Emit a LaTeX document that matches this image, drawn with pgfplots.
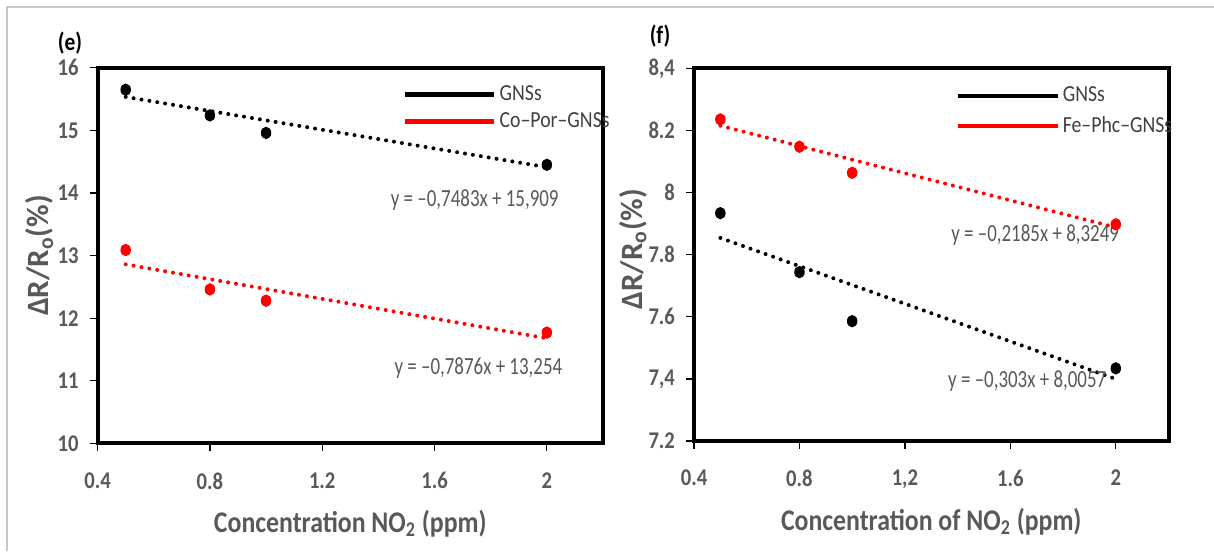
\documentclass[border=0pt]{standalone}
\usepackage{fontspec}
\setmainfont{Carlito}[FakeStretch=0.86]
\newfontfamily\eqfont{Carlito}[FakeStretch=0.77]
\newfontfamily\plainfont{Carlito}
\usepackage{pgfplots}
\usepackage{pgfplotstable}
\pgfplotsset{compat=1.18}
\definecolor{txtgray}{HTML}{595959}
\definecolor{leggray}{HTML}{404040}

\pgfplotstableread{
x y
0.5 15.65
0.8 15.24
1.0 14.96
2.0 14.45
}\gnsE
\pgfplotstableread{
x y
0.5 13.09
0.8 12.46
1.0 12.28
2.0 11.77
}\coporE
\pgfplotstableread{
x y
0.5 7.934
0.8 7.744
1.0 7.586
2.0 7.434
}\gnsF
\pgfplotstableread{
x y
0.5 8.236
0.8 8.148
1.0 8.064
2.0 7.898
}\fephcF

\pgfplotsset{
  panel/.style={
    scale only axis,
    xmin=0.4, xmax=2.2,
    xtick={0.4,0.8,1.2,1.6,2},
    tick align=outside, xtick pos=bottom, ytick pos=left,
    major tick length=4pt,
    axis line style={line width=2pt},
    tick style={black, line width=0.6pt},
    tick label style={font=\fontsize{12}{14}\selectfont\bfseries, text=txtgray},
    xticklabel style={yshift=-7pt},
    yticklabel style={xshift=-2pt},
    xlabel style={font=\fontsize{15}{17}\selectfont\bfseries, text=txtgray,
      at={(axis description cs:0.5,0)}, anchor=base, yshift=-44.5pt},
    ylabel style={font=\plainfont\fontsize{15.5}{17}\selectfont\bfseries, text=txtgray,
      anchor=center},
    legend image code/.code={\draw[#1] (0pt,0pt) -- (44.5pt,0pt);},
    legend style={draw=none, fill=none, inner sep=0pt,
      font=\fontsize{11.5}{13}\selectfont, text=leggray,
      legend cell align=left, row sep=1.5pt,
      nodes={inner sep=1.5pt}},
    clip=false,
    after end axis/.code={\draw[line width=2pt, line join=miter] (rel axis cs:0,0) rectangle (rel axis cs:1,1);},
  },
  dat/.style={only marks, mark=*, mark size=2.4pt, mark options={yscale=1.2}, forget plot},
  trend/.style={line width=2pt, dash pattern=on 0pt off 4pt, line cap=round, forget plot},
}

\begin{document}
\begin{tikzpicture}
\useasboundingbox (0,0) rectangle (607pt,275.5pt);
\draw[black!22, line width=1pt] (3.7pt,0pt) -- (3.7pt,272pt) -- (607pt,272pt);

\node[font=\bfseries\fontsize{12.5}{15}\selectfont] at (35pt,254pt) {(e)};
\node[font=\bfseries\fontsize{12.5}{15}\selectfont] at (330pt,257.5pt) {(f)};

\begin{axis}[panel, at={(48.8pt,53.8pt)}, anchor=south west,
  width=252.7pt, height=187.8pt,
  ymin=10, ymax=16, ytick={10,11,12,13,14,15,16},
  xticklabels={0.4,0.8,1.2,1.6,2},
  yticklabels={10,11,12,13,14,15,16},
  xlabel={Concentration NO\textsubscript{2} (ppm)},
  ylabel={ΔR/R\textsubscript{o}(\%)},
  ylabel style={at={(axis description cs:-0.1148,0.5)}},
  legend style={at={(axis description cs:0.604,0.962)}, anchor=north west},
]
\addlegendimage{black, line width=2.2pt}
\addlegendentry{GNSs}
\addlegendimage{red, line width=2.2pt}
\addlegendentry{Co–Por–GNSs}
\addplot[trend, black] coordinates {(0.5,15.5349) (2,14.4124)};
\addplot[trend, red] coordinates {(0.5,12.8602) (2,11.6788)};
\addplot[dat, black] table[x=x,y=y] {\gnsE};
\addplot[dat, red] table[x=x,y=y] {\coporE};
\node[font=\eqfont\fontsize{12.3}{14}\selectfont, text=txtgray] at (axis cs:1.743,13.89) {y = –0,7483x + 15,909};
\node[font=\eqfont\fontsize{12.3}{14}\selectfont, text=txtgray] at (axis cs:1.756,11.20) {y = –0,7876x + 13,254};
\end{axis}

\begin{axis}[panel, at={(347pt,55pt)}, anchor=south west,
  width=237.25pt, height=186.25pt,
  ymin=7.2, ymax=8.4, ytick={7.2,7.4,7.6,7.8,8.0,8.2,8.4},
  xticklabels={0.4,0.8,{1,2},1.6,2},
  yticklabels={7.2,{7,4},7.6,7.8,8,8.2,{8,4}},
  xlabel={Concentration of NO\textsubscript{2} (ppm)},
  ylabel={ΔR/R\textsubscript{o}(\%)},
  ylabel style={at={(axis description cs:-0.1286,0.515)}},
  legend image code/.code={\draw[#1] (0pt,0pt) -- (50pt,0pt);},
  legend style={at={(axis description cs:0.55,0.96)}, anchor=north west, row sep=3pt},
]
\addlegendimage{black, line width=2.2pt}
\addlegendentry{GNSs}
\addlegendimage{red, line width=2.2pt}
\addlegendentry{Fe–Phc–GNSs}
\addplot[trend, red] coordinates {(0.5,8.21565) (2,7.8879)};
\addplot[trend, black] coordinates {(0.5,7.8542) (2,7.3997)};
\addplot[dat, red] table[x=x,y=y] {\fephcF};
\addplot[dat, black] table[x=x,y=y] {\gnsF};
\node[font=\eqfont\fontsize{12.3}{14}\selectfont, text=txtgray] at (axis cs:1.694,7.864) {y = –0,2185x + 8,3249};
\node[font=\eqfont\fontsize{12.3}{14}\selectfont, text=txtgray] at (axis cs:1.664,7.393) {y = –0,303x + 8,0057};
\end{axis}
\end{tikzpicture}
\end{document}
